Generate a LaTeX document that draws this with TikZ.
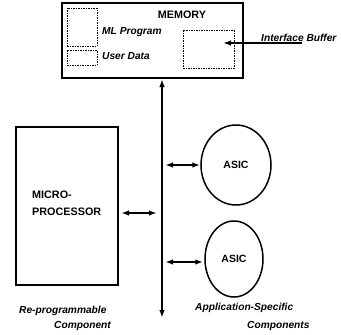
\documentclass[tikz,border=0pt]{standalone}
\usepackage{fontspec}
\setmainfont{Liberation Sans}
\usetikzlibrary{arrows.meta}
\usetikzlibrary{positioning}
\usetikzlibrary{shapes.geometric}

\tikzset{
  unit/.style={draw, line width=1.6pt, inner sep=0pt},
  slot/.style={draw, line width=1pt, dash pattern=on 1.5pt off 1pt, inner sep=0pt},
  chip/.style={draw, ellipse, line width=1.5pt, inner sep=0pt, font=\bfseries\fontsize{10.5}{12}\selectfont},
  tag/.style={font=\bfseries\itshape\fontsize{10.2}{12}\selectfont, inner sep=0pt, anchor=west},
  link/.style={line width=1.8pt, {Latex[length=8pt,width=5.5pt]}-{Latex[length=8pt,width=5.5pt]}}
}

\begin{document}
\begin{tikzpicture}[x=1pt,y=-1pt]
    \useasboundingbox (0,0) rectangle (341,335);

    % memory with its parts
    \node (mem) [unit, minimum width=181pt, minimum height=75pt] at (152.5,40.5) {};
    \node (memlbl) [inner sep=0pt, font=\bfseries\fontsize{10.8}{12}\selectfont] at (182,15) {MEMORY};
    \node (mlbox) [slot, minimum width=30pt, minimum height=38pt] at (82,27) {};
    \node (udbox) [slot, minimum width=30pt, minimum height=15pt] at (82,57.5) {};
    \node (mllbl) [tag] at (102,32) {ML Program};
    \node (udlbl) [tag] at (102,56) {User Data};
    \node (ibuf) [slot, minimum width=51pt, minimum height=38pt] at (208.5,49) {};
    \node (iblbl) [tag] at (261,38) {Interface Buffer};
    \coordinate (ibin) at (223,43);
    \coordinate (ibout) at (302,43);
    \draw [line width=1.5pt, -{Latex[length=8pt,width=5.5pt]}] (ibout) -- (ibin);

    % bus
    \coordinate (bustop) at (162,79);
    \coordinate (busbot) at (162,318);
    \draw [link, line width=2.4pt] (bustop) -- (busbot);

    % processor
    \node (micro) [unit, minimum width=102pt, minimum height=158pt] at (67,206) {};
    \node (microlbl) [inner sep=0pt, anchor=west, align=left,
      font=\bfseries\fontsize{10.8}{17}\selectfont] at (32,203) {MICRO-\\PROCESSOR};
    \coordinate (b1) at (157,213);
    \draw [link] (121,213) -- (b1);

    % asics
    \node (asic1) [chip, minimum width=70pt, minimum height=80pt] at (236,165) {ASIC};
    \node (asic2) [chip, minimum width=58pt, minimum height=76pt] at (234,259) {ASIC};
    \coordinate (b2) at (165,165);
    \coordinate (b3) at (165,262);
    \draw [link] (b2) -- (asic1.west |- b2);
    \draw [link] (b3) -- ([xshift=-1pt]asic2.west |- b3);

    % captions
    \node (rp1) [tag] at (19,311) {Re-programmable};
    \node (rp2) [tag] at (54,326) {Component};
    \node (as1) [tag] at (195,308) {Application-Specific};
    \node (as2) [tag] at (247,326) {Components};
\end{tikzpicture}
\end{document}
